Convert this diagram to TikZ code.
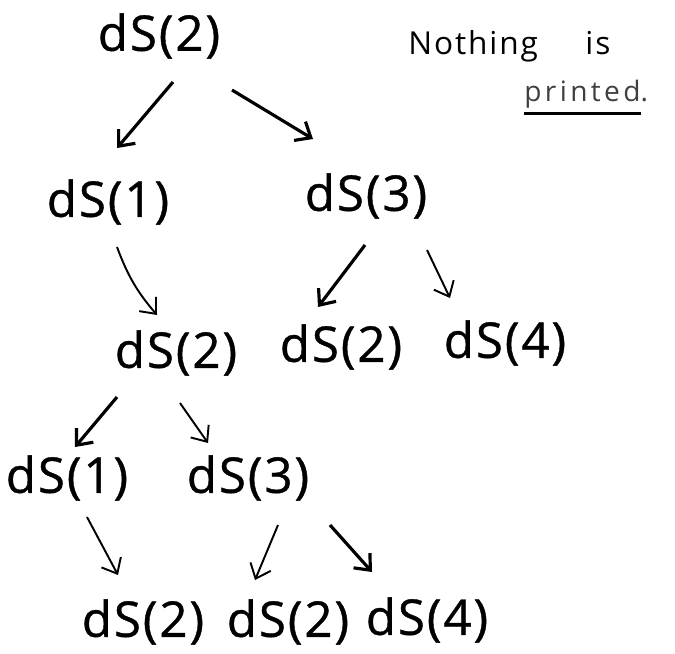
\documentclass[tikz,border=0pt]{standalone}
\usepackage{fontspec}
\newfontfamily\handfont{Open Sans}[LetterSpace=4,FakeBold=0.8]
\newfontfamily\notefont{Open Sans}[LetterSpace=6]
\usetikzlibrary{calc,positioning,arrows.meta}

\begin{document}
\begin{tikzpicture}[x=0.02cm,y=-0.02cm,
  call/.style={font=\handfont\fontsize{28}{32}\selectfont, inner sep=0pt},
  note/.style={font=\notefont\fontsize{18}{22}\selectfont, inner sep=0pt},
  >={Straight Barb[length=2.6mm,width=4.4mm]},
  bigarrow/.style={->, line width=1.8pt},
  smallarrow/.style={->, line width=1.1pt}]
  \useasboundingbox (0,0) rectangle (675,653);
  % the calls
  \node[call] (root) at (159,36) {dS(2)};
  \node[call] (l1) at (108,202) {dS(1)};
  \node[call] (r1) at (366,196) {dS(3)};
  \node[call] (a) at (176,353) {dS(2)};
  \node[call] (b) at (341,347) {dS(2)};
  \node[call] (c) at (505,343) {dS(4)};
  \node[call] (d) at (67,478) {dS(1)};
  \node[call] (e) at (248,478) {dS(3)};
  \node[call] (f) at (143,622) {dS(2)};
  \node[call] (g) at (288,622) {dS(2)};
  \node[call] (h) at (427,620) {dS(4)};
  % remark
  \node[note, anchor=base west] (nothing) at (408,54) {Nothing\hspace{1.5em}is};
  \node[note, anchor=base west, text=black!75,
    font=\notefont\fontsize{16}{18}\selectfont\addfontfeature{LetterSpace=12}] (printed) at (524,101) {printed\rlap{.}};
  \draw[line width=1.6pt] ([yshift=-3pt]printed.south west) -- ([yshift=-3pt]printed.south east);
  % arrows
  \draw[bigarrow] ($(root)+(14,46)$) -- ($(l1)+(9,-54)$);
  \draw[bigarrow] ($(root)+(73,54)$) -- ($(r1)+(-53,-57)$);
  \draw[smallarrow] ($(l1)+(9,45)$) to[bend right=10] ($(a)+(-19,-38)$);
  \draw[bigarrow] ($(r1)+(-1,49)$) -- ($(b)+(-23,-40)$);
  \draw[smallarrow] ($(r1)+(61,54)$) -- ($(c)+(-55,-45)$);
  \draw[bigarrow] ($(a)+(-59,44)$) -- ($(d)+(8,-31)$);
  \draw[smallarrow] ($(a)+(4,50)$) -- ($(e)+(-40,-35)$);
  \draw[smallarrow] ($(d)+(20,39)$) -- ($(f)+(-25,-47)$);
  \draw[smallarrow] ($(e)+(30,47)$) -- ($(g)+(-33,-42)$);
  \draw[bigarrow] ($(e)+(82,47)$) -- ($(h)+(-55,-48)$);
\end{tikzpicture}
\end{document}
